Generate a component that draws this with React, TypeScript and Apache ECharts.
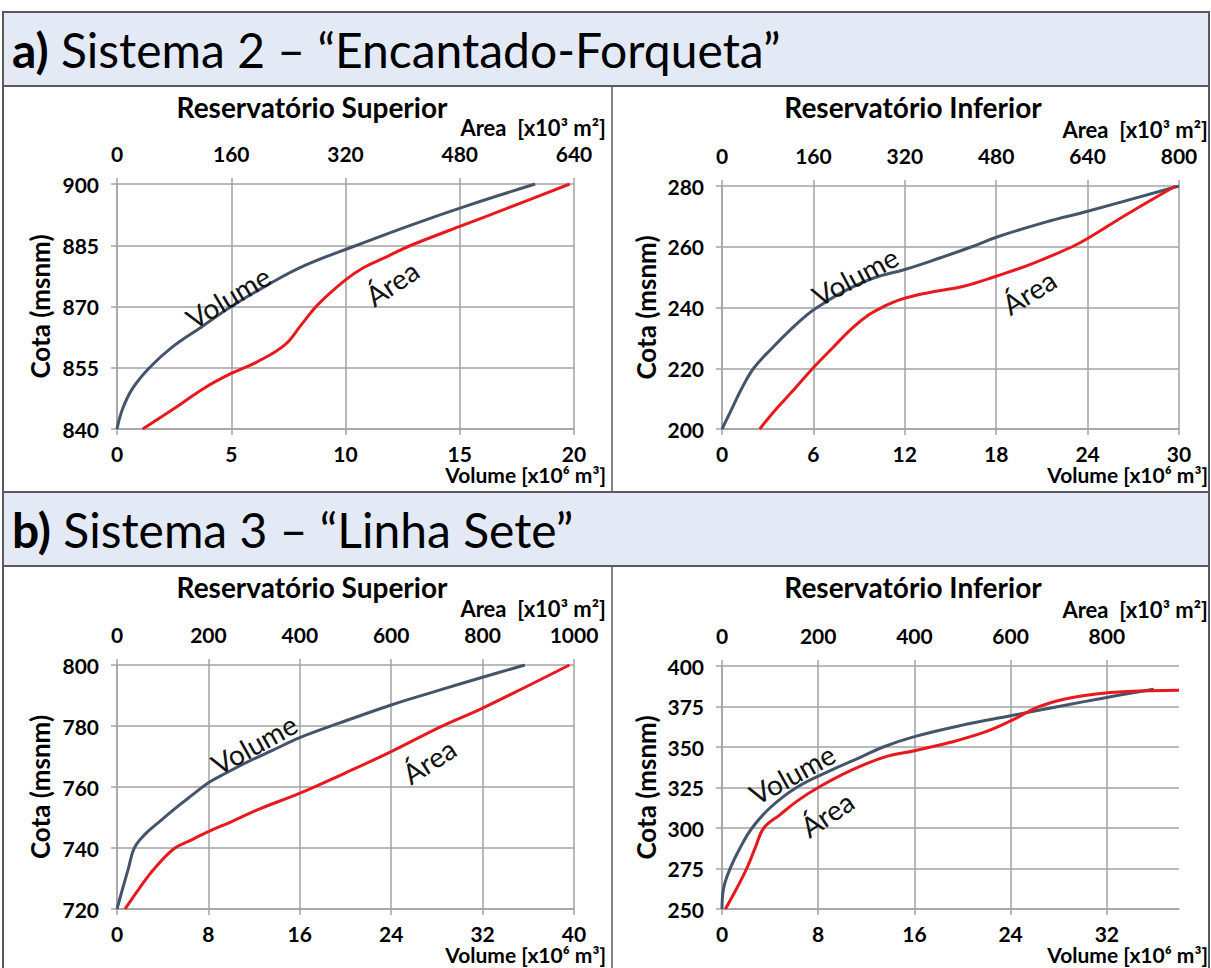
import React, { useEffect, useRef } from "react";
import * as echarts from "echarts";

// ---------- DATA ----------
// Sistema 2 – Reservatório Superior
const s2SupVolCota = [840, 845, 850, 855, 860, 865, 870, 875, 880, 885, 890, 895, 900];
const s2SupVol = [0, 0.25, 0.69, 1.42, 2.4, 3.7, 5.0, 6.5, 8.2, 10.5, 12.9, 15.5, 18.3];
const s2SupAreaCota = [840, 845, 850, 853.6, 856.5, 860.6, 865.5, 870.4, 876.5, 879.5, 882.3, 885, 889.6, 894.1, 900];
const s2SupArea = [36, 80, 122, 160, 197, 235, 258, 281, 320, 345, 379, 412, 480, 547, 634];

// Sistema 2 – Reservatório Inferior
const s2InfVolCota = [200, 206.8, 213.4, 220, 226.6, 233.2, 237.6, 240, 245.3, 249.7, 252.5, 256.3, 260, 263.3, 268.2, 271.7, 280];
const s2InfVol = [0, 0.66, 1.3, 2.08, 3.28, 4.6, 5.58, 6.24, 8.0, 9.96, 12.0, 14.3, 16.4, 18.1, 21.3, 24.0, 30];
const s2InfAreaCota = [200, 206.8, 213.4, 220, 226.6, 233.2, 237.6, 240.3, 242.6, 244.8, 247, 250.3, 254.2, 260, 262.7, 270.7, 280];
const s2InfArea = [66, 96, 128, 159, 193, 228, 257, 283, 312, 359, 423, 480, 540, 613, 640, 709, 794];

// Sistema 3 – Reservatório Superior
const s3SupVolCota = [720, 726.8, 733.3, 739.9, 744.3, 748.6, 753, 757.4, 761.4, 764.5, 768, 772, 776.2, 781, 786.9, 791.5, 796, 800];
const s3SupVol = [0, 0.5, 1.0, 1.5, 2.4, 3.7, 5.1, 6.6, 8.0, 9.5, 11.3, 13.6, 16.0, 19.5, 24.0, 28.0, 32.0, 35.7];
const s3SupAreaCota = [720, 726.8, 733.3, 739.9, 742.6, 745.4, 748.6, 753, 757.9, 764.5, 771.6, 779.8, 785.8, 800];
const s3SupArea = [17.5, 49, 82, 126, 162, 200, 250, 315, 399, 498, 600, 709, 799, 990];

// Sistema 3 – Reservatório Inferior
const s3InfVolCota = [250, 263, 275.4, 287.7, 300, 312.5, 325, 335.4, 343.6, 350, 356.4, 363.2, 369.3, 375, 380.6, 385.6];
const s3InfVol = [0, 0.14, 0.7, 1.5, 2.5, 4.0, 6.2, 9.0, 11.5, 13.4, 16.0, 19.8, 24.0, 28.0, 32.0, 35.9];
const s3InfAreaCota = [250, 263, 275.4, 287.7, 300, 308.3, 316.6, 325, 335.4, 343.6, 347.7, 352.9, 359, 366.1, 374.4, 379.5, 382.5, 384.2, 385];
const s3InfArea = [7, 31, 52, 69, 87, 121, 156, 200, 267, 336, 400, 475, 544, 600, 655, 711, 773, 842, 950];

// Axis ticks
const s2SupVolTicks = [0, 5, 10, 15, 20];
const s2SupAreaTicks = [0, 160, 320, 480, 640];
const s2SupCotaTicks = [840, 855, 870, 885, 900];
const s2InfVolTicks = [0, 6, 12, 18, 24, 30];
const s2InfAreaTicks = [0, 160, 320, 480, 640, 800];
const s2InfCotaTicks = [200, 220, 240, 260, 280];
const s3SupVolTicks = [0, 8, 16, 24, 32, 40];
const s3SupAreaTicks = [0, 200, 400, 600, 800, 1000];
const s3SupCotaTicks = [720, 740, 760, 780, 800];
const s3InfVolTicks = [0, 8, 16, 24, 32];
const s3InfAreaTicks = [0, 200, 400, 600, 800];
const s3InfCotaTicks = [250, 275, 300, 325, 350, 375, 400];
const s3InfVolMax = 38;
const s3InfAreaMax = 950;

const sectionTitles = ["Sistema 2 – “Encantado-Forqueta”", "Sistema 3 – “Linha Sete”"];
const sectionLetters = ["a)", "b)"];
const panelTitles = ["Reservatório Superior", "Reservatório Inferior", "Reservatório Superior", "Reservatório Inferior"];

const zip = (xs: number[], ys: number[]) => xs.map((x, i) => [x, ys[i]]);

// ---------- STYLE / LAYOUT ----------
const FONT = "Lato, 'Noto Sans', sans-serif";
const GRID_COLOR = "#a3a3a3";
const VOL_COLOR = "#44546a";
const AREA_COLOR = "#e8191c";
const BAND_COLOR = "#e3eaf5";
const BORDER = "#5a5a5a";

type PanelDef = {
  grid: { left: number; top: number; width: number; height: number };
  vol: number[]; volMax: number;
  area: number[]; areaMax: number;
  cota: number[];
  volData: number[][]; areaData: number[][];
  cx: number;
  titleY: number;
  right: number;
  cotaX: number;
  labels: { vol: [number, number, number]; area: [number, number, number] };
};

const panels: PanelDef[] = [
  {
    grid: { left: 117, top: 184, width: 457, height: 245 },
    vol: s2SupVolTicks, volMax: 20, area: s2SupAreaTicks, areaMax: 640, cota: s2SupCotaTicks,
    volData: zip(s2SupVol, s2SupVolCota), areaData: zip(s2SupArea, s2SupAreaCota),
    cx: 312, titleY: 107, right: 606, cotaX: 40,
    labels: { vol: [228, 297, 31], area: [392, 283, 34] },
  },
  {
    grid: { left: 722, top: 186, width: 457, height: 243 },
    vol: s2InfVolTicks, volMax: 30, area: s2InfAreaTicks, areaMax: 800, cota: s2InfCotaTicks,
    volData: zip(s2InfVol, s2InfVolCota), areaData: zip(s2InfArea, s2InfAreaCota),
    cx: 913, titleY: 107, right: 1208, cotaX: 646,
    labels: { vol: [855, 276, 28], area: [1029, 292, 32] },
  },
  {
    grid: { left: 117, top: 665, width: 457, height: 244 },
    vol: s3SupVolTicks, volMax: 40, area: s3SupAreaTicks, areaMax: 1000, cota: s3SupCotaTicks,
    volData: zip(s3SupVol, s3SupVolCota), areaData: zip(s3SupArea, s3SupAreaCota),
    cx: 312, titleY: 587, right: 606, cotaX: 40,
    labels: { vol: [254, 744, 29], area: [429, 761, 33] },
  },
  {
    grid: { left: 722, top: 666, width: 457, height: 243 },
    vol: s3InfVolTicks, volMax: s3InfVolMax, area: s3InfAreaTicks, areaMax: s3InfAreaMax, cota: s3InfCotaTicks,
    volData: zip(s3InfVol, s3InfVolCota), areaData: zip(s3InfArea, s3InfAreaCota),
    cx: 913, titleY: 587, right: 1208, cotaX: 646,
    labels: { vol: [792, 774, 29], area: [827, 814, 34] },
  },
];

const tickLabel = { fontFamily: FONT, fontWeight: "bold" as const, fontSize: 21, color: "#000", formatter: (v: number) => String(v) };
const gridLine = { lineStyle: { color: GRID_COLOR, width: 1.5 } };

function buildOption() {
  const grids: any[] = [];
  const xAxes: any[] = [];
  const yAxes: any[] = [];
  const series: any[] = [];
  const graphic: any[] = [];

  graphic.push(
    { type: "rect", shape: { x: 3, y: 12, width: 1206, height: 960 }, style: { fill: "#fff", stroke: BORDER, lineWidth: 2 }, z: -10 },
    { type: "rect", shape: { x: 3, y: 12, width: 1206, height: 74 }, style: { fill: BAND_COLOR, stroke: BORDER, lineWidth: 2 }, z: -9 },
    { type: "rect", shape: { x: 3, y: 492, width: 1206, height: 74 }, style: { fill: BAND_COLOR, stroke: BORDER, lineWidth: 2 }, z: -9 },
    { type: "line", shape: { x1: 612, y1: 86, x2: 612, y2: 492 }, style: { stroke: BORDER, lineWidth: 1.5 }, z: -9 },
    { type: "line", shape: { x1: 612, y1: 566, x2: 612, y2: 970 }, style: { stroke: BORDER, lineWidth: 1.5 }, z: -9 },
  );
  [49, 529].forEach((y, i) => {
    graphic.push({
      type: "text", x: 12, y, z: 10,
      style: {
        text: `{b|${sectionLetters[i]}} ${sectionTitles[i]}`,
        fontFamily: FONT, fontSize: 48, fill: "#000", textVerticalAlign: "middle",
        rich: { b: { fontFamily: FONT, fontSize: 48, fontWeight: "bold", fill: "#000" } },
      },
    });
  });

  panels.forEach((p, i) => {
    grids.push({ ...p.grid, containLabel: false });
    const custom = p.volMax % (p.vol[1] - p.vol[0]) !== 0;
    const volAxis: any = {
      type: "value", gridIndex: i, position: "bottom", min: 0, max: p.volMax,
      axisLine: { show: true, lineStyle: { color: GRID_COLOR, width: 1.5 } },
      axisTick: { show: true, length: 6, lineStyle: { color: GRID_COLOR, width: 1.5 } },
      axisLabel: { ...tickLabel, margin: 14 },
      splitLine: { show: true, ...gridLine },
    };
    const areaAxis: any = {
      type: "value", gridIndex: i, position: "top", min: 0, max: p.areaMax,
      axisLine: { show: false },
      axisTick: { show: true, length: 6, lineStyle: { color: GRID_COLOR, width: 1.5 } },
      axisLabel: { ...tickLabel, margin: 20 },
      splitLine: { show: false },
    };
    if (custom) {
      volAxis.axisTick.customValues = p.vol;
      volAxis.axisLabel.customValues = p.vol;
      areaAxis.axisTick.customValues = p.area;
      areaAxis.axisLabel.customValues = p.area;
    } else {
      volAxis.interval = p.vol[1] - p.vol[0];
      areaAxis.interval = p.area[1] - p.area[0];
    }
    xAxes.push(volAxis, areaAxis);
    yAxes.push({
      type: "value", gridIndex: i, min: p.cota[0], max: p.cota[p.cota.length - 1],
      interval: p.cota[1] - p.cota[0],
      axisLine: { show: true, lineStyle: { color: GRID_COLOR, width: 1.5 } },
      axisTick: { show: true, length: 6, lineStyle: { color: GRID_COLOR, width: 1.5 } },
      axisLabel: { ...tickLabel, margin: 18 },
      splitLine: { show: true, ...gridLine },
    });
    series.push(
      {
        type: "line", name: "Volume", xAxisIndex: i * 2, yAxisIndex: i, data: p.volData,
        showSymbol: false, smooth: 0.4, lineStyle: { color: VOL_COLOR, width: 3 }, itemStyle: { color: VOL_COLOR }, z: 3,
      },
      {
        type: "line", name: "Área", xAxisIndex: i * 2 + 1, yAxisIndex: i, data: p.areaData,
        showSymbol: false, smooth: 0.4, lineStyle: { color: AREA_COLOR, width: 3 }, itemStyle: { color: AREA_COLOR }, z: 4,
      },
    );

    const top = p.grid.top;
    const bottom = p.grid.top + p.grid.height;
    graphic.push(
      { type: "text", x: p.cx, y: p.titleY, style: { text: panelTitles[i], fontFamily: FONT, fontWeight: "bold", fontSize: 28, fill: "#000", textAlign: "center", textVerticalAlign: "middle" } },
      { type: "text", x: p.right, y: top - 57, style: { text: "Area  [x10³ m²]", fontFamily: FONT, fontWeight: "bold", fontSize: 22, fill: "#000", textAlign: "right", textVerticalAlign: "middle" } },
      { type: "text", x: p.right, y: bottom + 45, style: { text: "Volume [x10⁶ m³]", fontFamily: FONT, fontWeight: "bold", fontSize: 21, fill: "#000", textAlign: "right", textVerticalAlign: "middle" } },
      { type: "text", x: p.cotaX, y: top + p.grid.height / 2, rotation: Math.PI / 2, style: { text: "Cota (msnm)", fontFamily: FONT, fontWeight: "bold", fontSize: 26, fill: "#000", textAlign: "center", textVerticalAlign: "middle" } },
      { type: "text", x: p.labels.vol[0], y: p.labels.vol[1], rotation: (p.labels.vol[2] * Math.PI) / 180, z: 20, style: { text: "Volume", fontFamily: FONT, fontSize: 28, fill: "#111", textAlign: "center", textVerticalAlign: "middle" } },
      { type: "text", x: p.labels.area[0], y: p.labels.area[1], rotation: (p.labels.area[2] * Math.PI) / 180, z: 20, style: { text: "Área", fontFamily: FONT, fontSize: 28, fill: "#111", textAlign: "center", textVerticalAlign: "middle" } },
    );
  });

  return { animation: false, backgroundColor: "#fff", grid: grids, xAxis: xAxes, yAxis: yAxes, series, graphic };
}

export default function App() {
  const ref = useRef<HTMLDivElement>(null);
  useEffect(() => {
    if (!ref.current) return;
    const chart = echarts.init(ref.current, undefined, { renderer: "svg" });
    chart.setOption(buildOption() as any);
    return () => chart.dispose();
  }, []);
  return <div ref={ref} style={{ position: "absolute", left: 0, top: 0, width: 1211, height: 968 }} />;
}
